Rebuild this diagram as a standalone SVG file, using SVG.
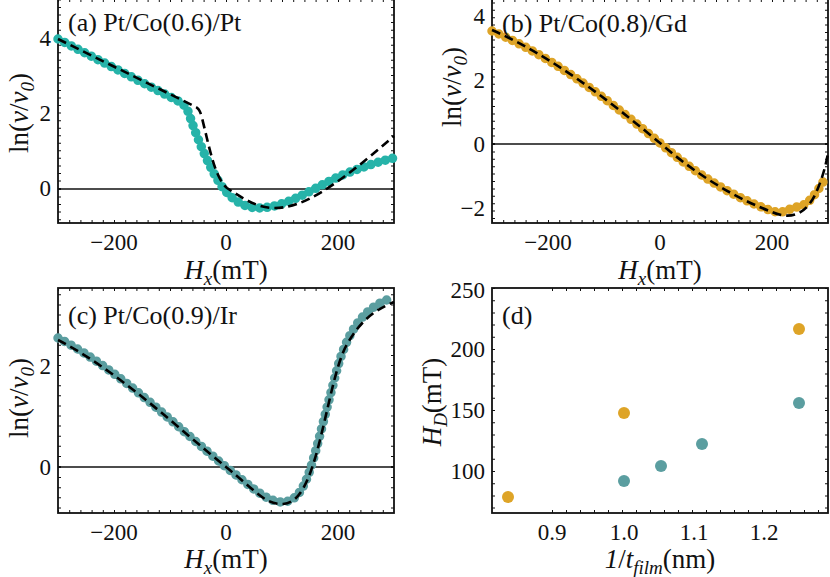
<svg xmlns="http://www.w3.org/2000/svg" width="830" height="577" viewBox="0 0 830 577">
<style>
text{font-family:"Liberation Serif","Times New Roman",serif;fill:#111}
.tk{font-size:23px}
.ax{font-size:27px}
.ti{font-size:26px}
.fr{fill:none;stroke:#111;stroke-width:1.8}
.zl{stroke:#111;stroke-width:1.4}
.mi{fill:none;stroke:#111;stroke-width:3}
.dash{fill:none;stroke:#000;stroke-width:2.6;stroke-dasharray:9 5}
.dots{fill:none;stroke-width:9.5;stroke-linecap:round;stroke-dasharray:0 7.5}
.ta{stroke:#26b3a9}.tc{stroke:#5b9ea0}.go{stroke:#dea427}
</style>
<g id="panel-a">
<rect class="fr" x="58" y="-1" width="336" height="224"/>
<path class="mi" d="M58,221.5H394M58,0.5H394" stroke-dasharray="1 10.2"/>
<path class="mi" d="M59.5,189V0M392.5,189V0M59.5,189V223M392.5,189V223" stroke-dasharray="1 6.54"/>
<path class="zl" d="M58,189H394"/>
<path class="dots ta" d="M58,39 L180,102 Q187,106 190,117 C198,140 210,170 223,188 C232,200 245,208 258,208 C285,208 310,190 340,176 C360,168 380,161 394,158"/>
<path class="dash" d="M58,39 L196,107 Q200,109 202,118 C210,150 215,178 227,188 C245,200 258,208 275,208 C300,208 330,192 394,136"/>
<text class="ti" x="68" y="31">(a)  Pt/Co(0.6)/Pt</text>
<g class="tk" text-anchor="end"><text x="51" y="46">4</text><text x="51" y="121">2</text><text x="51" y="196">0</text></g>
<g class="tk" text-anchor="middle"><text x="114" y="250">−200</text><text x="226" y="250">0</text><text x="338" y="250">200</text></g>
<text class="ax" x="226" y="279" text-anchor="middle"><tspan font-style="italic">H</tspan><tspan font-style="italic" font-size="19" dy="6">x</tspan><tspan dy="-6">(mT)</tspan></text>
<text class="ax" transform="translate(28,113) rotate(-90)" text-anchor="middle">ln(<tspan font-style="italic">v</tspan>/<tspan font-style="italic">v</tspan><tspan font-style="italic" font-size="19" dy="6">0</tspan><tspan dy="-6">)</tspan></text>
</g>
<g id="panel-b">
<rect class="fr" x="492" y="-1" width="336" height="224"/>
<path class="mi" d="M492,221.5H828M492,0.5H828" stroke-dasharray="1 10.2"/>
<path class="mi" d="M493.5,144V0M826.5,144V0M493.5,144V223M826.5,144V223" stroke-dasharray="1 6.4"/>
<path class="zl" d="M492,144H828"/>
<path class="dots go" d="M492,31 C560,60 620,110 660,143 C700,178 740,200 772,211 C785,215 790,207 798,207 C808,205 815,195 823,182"/>
<path class="dash" d="M492,30 C560,60 620,110 660,143 C700,178 740,200 772,212 C790,220 805,215 815,195 C822,180 826,165 828,153"/>
<text class="ti" x="502" y="32">(b)  Pt/Co(0.8)/Gd</text>
<g class="tk" text-anchor="end"><text x="485" y="24">4</text><text x="485" y="88">2</text><text x="485" y="152">0</text><text x="485" y="216">−2</text></g>
<g class="tk" text-anchor="middle"><text x="548" y="250">−200</text><text x="660" y="250">0</text><text x="772" y="250">200</text></g>
<text class="ax" x="660" y="279" text-anchor="middle"><tspan font-style="italic">H</tspan><tspan font-style="italic" font-size="19" dy="6">x</tspan><tspan dy="-6">(mT)</tspan></text>
<text class="ax" transform="translate(461,87) rotate(-90)" text-anchor="middle">ln(<tspan font-style="italic">v</tspan>/<tspan font-style="italic">v</tspan><tspan font-style="italic" font-size="19" dy="6">0</tspan><tspan dy="-6">)</tspan></text>
</g>
<g id="panel-c">
<rect class="fr" x="58" y="288" width="336" height="225"/>
<path class="mi" d="M58,511.5H394M58,289.5H394" stroke-dasharray="1 10.2"/>
<path class="mi" d="M59.5,467V288M392.5,467V288M59.5,467V513M392.5,467V513" stroke-dasharray="1 9.1"/>
<path class="zl" d="M58,467H394"/>
<path class="dots tc" d="M58,338 C120,370 180,430 226,467 C255,490 268,502 282,502 C296,502 303,490 310,470 C318,445 326,410 333,385 C340,355 348,335 360,320 C370,308 380,302 392,298"/>
<path class="dash" d="M58,340 C120,372 180,430 226,467 C255,490 265,505 283,504 C300,503 310,480 320,440 C330,400 335,370 345,348 C360,320 375,310 394,302"/>
<text class="ti" x="68" y="324">(c)  Pt/Co(0.9)/Ir</text>
<g class="tk" text-anchor="end"><text x="51" y="374">2</text><text x="51" y="475">0</text></g>
<g class="tk" text-anchor="middle"><text x="114" y="540">−200</text><text x="226" y="540">0</text><text x="338" y="540">200</text></g>
<text class="ax" x="226" y="568" text-anchor="middle"><tspan font-style="italic">H</tspan><tspan font-style="italic" font-size="19" dy="6">x</tspan><tspan dy="-6">(mT)</tspan></text>
<text class="ax" transform="translate(28,398) rotate(-90)" text-anchor="middle">ln(<tspan font-style="italic">v</tspan>/<tspan font-style="italic">v</tspan><tspan font-style="italic" font-size="19" dy="6">0</tspan><tspan dy="-6">)</tspan></text>
</g>
<g id="panel-d">
<rect class="fr" x="492" y="288" width="336" height="225"/>
<path class="mi" d="M552,511.5H828M552,289.5H828" stroke-dasharray="1 13"/>
<path class="mi" d="M493.5,288V513M826.5,288V513" stroke-dasharray="1 11.2"/>
<g fill="#dea427"><circle cx="508" cy="497" r="6"/><circle cx="624" cy="413" r="6"/><circle cx="799" cy="329" r="6"/></g>
<g fill="#5b9ea0"><circle cx="624" cy="481" r="6"/><circle cx="661" cy="466" r="6"/><circle cx="702" cy="444" r="6"/><circle cx="799" cy="403" r="6"/></g>
<text class="ti" x="502" y="324">(d)</text>
<g class="tk" text-anchor="end"><text x="485" y="298">250</text><text x="485" y="357">200</text><text x="485" y="418">150</text><text x="485" y="479">100</text></g>
<g class="tk" text-anchor="middle"><text x="552" y="540">0.9</text><text x="624" y="540">1.0</text><text x="694" y="540">1.1</text><text x="764" y="540">1.2</text></g>
<text class="ax" x="660" y="568" text-anchor="middle"><tspan font-style="italic">1</tspan>/<tspan font-style="italic">t</tspan><tspan font-style="italic" font-size="19" dy="6">film</tspan><tspan dy="-6">(nm)</tspan></text>
<text class="ax" transform="translate(441,402) rotate(-90)" text-anchor="middle"><tspan font-style="italic">H</tspan><tspan font-style="italic" font-size="19" dy="6">D</tspan><tspan dy="-6">(mT)</tspan></text>
</g>
</svg>
